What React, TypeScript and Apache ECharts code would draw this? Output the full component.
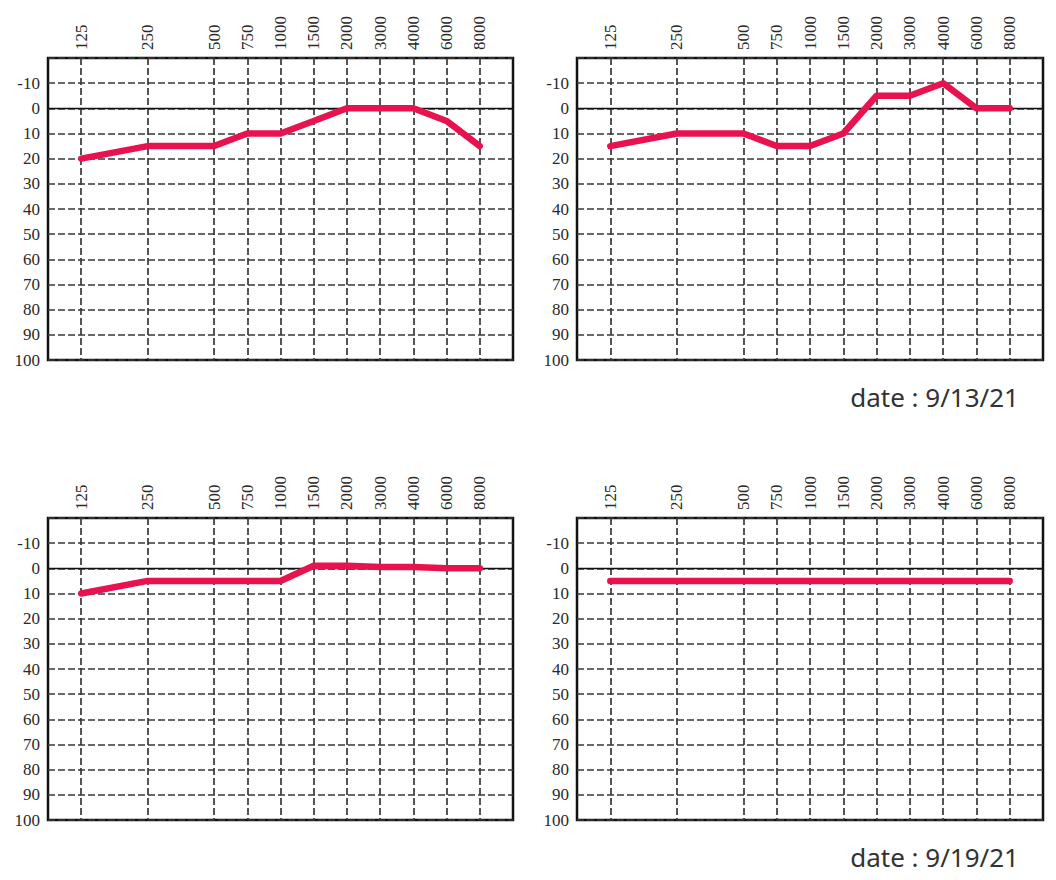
import React, { useEffect, useRef } from "react";
import * as echarts from "echarts";

const freqLabels = ["125", "250", "500", "750", "1000", "1500", "2000", "3000", "4000", "6000", "8000"];
const panelTopLeft = [20, 15, 15, 10, 10, 5, 0, 0, 0, 5, 15];
const panelTopRight = [15, 10, 10, 15, 15, 10, -5, -5, -10, 0, 0];
const panelBottomLeft = [10, 5, 5, 5, 5, -1, -1, -0.5, -0.5, 0, 0];
const panelBottomRight = [5, 5, 5, 5, 5, 5, 5, 5, 5, 5, 5];
const yTicks = [-10, 0, 10, 20, 30, 40, 50, 60, 70, 80, 90, 100];
const dateLabels = ["date : 9/13/21", "date : 9/19/21"];

// audiogram half-octave axis: position = rounded half-octave steps from 125 Hz
const halfOctave = (f: number) => Math.round(2 * Math.log2(f / 125));
const positions = freqLabels.map((f) => halfOctave(Number(f)));

const panels = [panelTopLeft, panelTopRight, panelBottomLeft, panelBottomRight];
const grids = [
  { left: 48, top: 58, width: 465, height: 302 },
  { left: 577, top: 58, width: 466, height: 302 },
  { left: 48, top: 518, width: 465, height: 302 },
  { left: 577, top: 518, width: 466, height: 302 },
];

const GRID_COLOR = "#383838";
const LABEL_FONT = "Liberation Serif";

export default function App() {
  const ref = useRef<HTMLDivElement>(null);
  useEffect(() => {
    if (!ref.current) return;
    const chart = echarts.init(ref.current, undefined, { renderer: "svg" });
    const xAxis: any[] = [];
    const yAxis: any[] = [];
    const series: any[] = [];
    panels.forEach((vals, i) => {
      xAxis.push({
        gridIndex: i,
        type: "value",
        position: "top",
        min: -1,
        max: 13,
        interval: 1,
        axisLine: { show: false },
        axisTick: { show: false },
        splitLine: { show: false },
        axisLabel: {
          rotate: 90,
          margin: 8,
          fontSize: 17,
          fontFamily: LABEL_FONT,
          color: "#2a2a2a",
          formatter: (v: number) => {
            const idx = positions.indexOf(v);
            return idx >= 0 ? freqLabels[idx] : "";
          },
        },
      });
      yAxis.push({
        gridIndex: i,
        type: "value",
        inverse: true,
        min: -20,
        max: 100,
        interval: 10,
        axisLine: { show: false },
        axisTick: { show: false },
        axisLabel: {
          margin: 8,
          fontSize: 17,
          fontFamily: LABEL_FONT,
          color: "#2a2a2a",
          formatter: (v: number) => (yTicks.includes(v) ? String(v) : ""),
        },
        splitLine: {
          show: true,
          lineStyle: { color: GRID_COLOR, width: 1.7, type: [7, 3] },
        },
      });
      // vertical dashed grid lines at each frequency + solid 0 dB line
      series.push({
        type: "line",
        xAxisIndex: i,
        yAxisIndex: i,
        data: [],
        z: 1,
        silent: true,
        markLine: {
          silent: true,
          symbol: ["none", "none"],
          label: { show: false },
          animation: false,
          data: [
            ...positions.map((p) => ({
              xAxis: p,
              lineStyle: { color: GRID_COLOR, width: 1.7, type: [7, 3] },
            })),
            { yAxis: 0, lineStyle: { color: "#111", width: 1.3, type: "solid" } },
          ],
        },
      });
      series.push({
        type: "line",
        xAxisIndex: i,
        yAxisIndex: i,
        z: 5,
        showSymbol: false,
        symbol: "none",
        data: vals.map((v, k) => [positions[k], v]),
        lineStyle: { color: "#e8124f", width: 6.5, cap: "round", join: "round" },
      });
    });

    const dateText = (text: string, y: number) => ({
      type: "text",
      x: 1019,
      y,
      style: {
        text,
        align: "right",
        verticalAlign: "middle",
        fontSize: 26,
        fontFamily: "Noto Sans",
        fill: "#333",
      },
    });

    chart.setOption({
      animation: false,
      grid: grids.map((g) => ({
        ...g,
        show: true,
        borderColor: "#111",
        borderWidth: 2.5,
        backgroundColor: "transparent",
        containLabel: false,
      })),
      xAxis,
      yAxis,
      series,
      graphic: [dateText(dateLabels[0], 397), dateText(dateLabels[1], 857)],
    });
    return () => chart.dispose();
  }, []);
  return (
    <div
      ref={ref}
      style={{ position: "fixed", left: 0, top: 0, width: 1056, height: 880, background: "#fff" }}
    />
  );
}
